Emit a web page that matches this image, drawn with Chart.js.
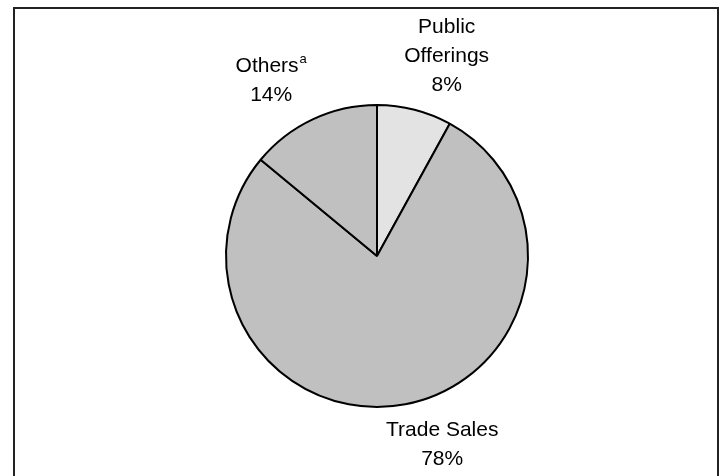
<!DOCTYPE html>
<html lang="en">

<head>
  <meta charset="UTF-8">
  <title>Exit Routes</title>
  <script src="https://cdn.jsdelivr.net/npm/chart.js"></script>
  <style>
    html, body { margin: 0; padding: 0; background: #ffffff; }
    canvas { display: block; }
  </style>
</head>

<body>
  <canvas id="exitChart" width="726" height="476"></canvas>

  <script>
    // Share of exits by route (percent)
    const categories = ["Public Offerings", "Trade Sales", "Others"];
    const shares = [8, 78, 14];
    const labelLines = [["Public", "Offerings"], ["Trade Sales"], ["Others"]];
    const footnoteMarks = ["", "", "a"];
    const sliceColors = ["#e3e3e3", "#c0c0c0", "#c0c0c0"];

    // nudges for the outside labels, in pixels, relative to the slice mid-angle
    const labelNudge = [[19, -4], [27, -13], [-19, 7]];

    const fontFamily = "'Liberation Sans', Arial, sans-serif";
    const fontSize = 21;
    const lineGap = 29;

    // outer frame round the whole chart
    const framePlugin = {
      id: "frame",
      beforeDraw(chart) {
        const ctx = chart.ctx;
        ctx.save();
        ctx.fillStyle = "#ffffff";
        ctx.fillRect(0, 0, chart.width, chart.height);
        ctx.strokeStyle = "#222222";
        ctx.lineWidth = 2;
        ctx.strokeRect(14, 8, 704, 500);
        ctx.restore();
      }
    };

    // category name + percent written outside each slice
    const outsideLabels = {
      id: "outsideLabels",
      afterDatasetsDraw(chart) {
        const ctx = chart.ctx;
        const arcs = chart.getDatasetMeta(0).data;
        const markSize = Math.round(fontSize * 0.62);
        ctx.save();
        ctx.fillStyle = "#000000";
        ctx.textBaseline = "alphabetic";
        ctx.textAlign = "left";
        arcs.forEach((arc, i) => {
          const mid = (arc.startAngle + arc.endAngle) / 2;
          const dist = arc.outerRadius * 1.35;
          const cx = arc.x + Math.cos(mid) * dist + labelNudge[i][0];
          const cy = arc.y + Math.sin(mid) * dist + labelNudge[i][1];
          const lines = labelLines[i].concat([shares[i] + "%"]);
          const top = cy - ((lines.length - 1) * lineGap) / 2 + fontSize * 0.36;
          lines.forEach((txt, j) => {
            const y = top + j * lineGap;
            const mark = j === 0 ? footnoteMarks[i] : "";
            ctx.font = fontSize + "px " + fontFamily;
            const w = ctx.measureText(txt).width;
            let markW = 0;
            if (mark) {
              ctx.font = markSize + "px " + fontFamily;
              markW = ctx.measureText(mark).width + 1;
            }
            const x0 = cx - (w + markW) / 2;
            ctx.font = fontSize + "px " + fontFamily;
            ctx.fillText(txt, x0, y);
            if (mark) {
              ctx.font = markSize + "px " + fontFamily;
              ctx.fillText(mark, x0 + w + 1, y - fontSize * 0.42);
            }
          });
        });
        ctx.restore();
      }
    };

    new Chart(document.getElementById("exitChart").getContext("2d"), {
      type: "pie",
      data: {
        labels: categories,
        datasets: [{
          data: shares,
          backgroundColor: sliceColors,
          borderColor: "#000000",
          borderWidth: 2,
        }],
      },
      options: {
        responsive: false,
        animation: false,
        layout: { padding: { top: 104, bottom: 68, left: 100, right: 72 } },
        plugins: {
          legend: { display: false },
          tooltip: { enabled: false },
        },
      },
      plugins: [framePlugin, outsideLabels],
    });
  </script>
</body>

</html>
